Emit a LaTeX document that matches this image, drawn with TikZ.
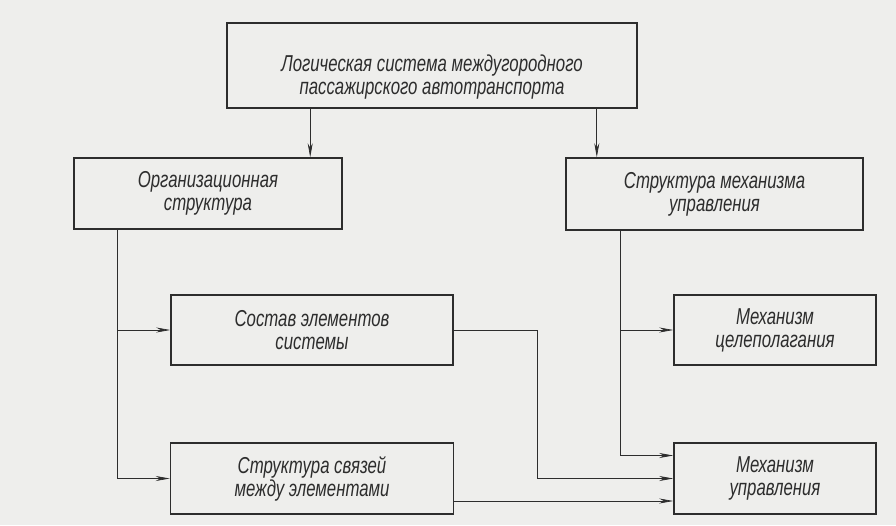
\documentclass[tikz,border=0pt]{standalone}
\usepackage{fontspec}
\setmainfont{Liberation Sans}[FakeStretch=0.73]
\usetikzlibrary{arrows.meta}
\definecolor{paper}{RGB}{238,238,236}
\definecolor{ink}{RGB}{45,45,45}

\tikzset{
  box/.style={draw=ink, line width=1.6pt, align=center, inner sep=2pt,
    font=\fontsize{23}{23}\selectfont\itshape, text=ink},
  txt/.style={align=center, font=\fontsize{23}{23}\selectfont\itshape, text=ink},
  arr/.style={draw=ink, line width=0.7pt, -{Stealth[length=14pt,width=5pt]}}
}

\begin{document}
\begin{tikzpicture}[x=1pt, y=1pt, node distance={148.5pt}]
\fill[paper] (0,0) rectangle (896,-525);
\useasboundingbox (0,0) rectangle (896,-525);

\node[box, minimum width=410pt, minimum height=85pt,
  label={[txt, yshift=-12pt]center:Логическая система междугородного\\пассажирского автотранспорта}]
  (top) at (432,-65.5) {};
\node[box, minimum width=268pt, minimum height=71pt] (org) at (208,-193.5)
  {Организационная\\структура};
\node[box, minimum width=297pt, minimum height=72pt] (mech) at (714.5,-194)
  {Структура механизма\\управления};
\node[box, minimum width=282pt, minimum height=70pt] (sost) at (312,-330)
  {Состав элементов\\системы};
\node[box, minimum width=202pt, minimum height=70pt] (tsel) at (775,-330)
  {Механизм\\целеполагания};
\node[box, minimum width=283pt, minimum height=71pt] (svyaz) [below of=sost]
  {Структура связей\\между элементами};
\node[box, minimum width=202pt, minimum height=71pt] (upr) [below of=tsel]
  {Механизм\\управления};

\draw[arr] ([xshift=84pt]top.south west) coordinate (a) -- (a |- org.north);
\draw[arr] ([xshift=-41pt]top.south east) coordinate (b) -- (b |- mech.north);
\draw[arr] ([xshift=44pt]org.south west) |- (sost.west);
\draw[arr] ([xshift=44pt]org.south west) |- (svyaz.west);
\draw[arr] ([xshift=55pt]mech.south west) |- (tsel.west);
\draw[arr] ([xshift=55pt]mech.south west) |- ([yshift=23pt]upr.west);
\draw[arr] (sost.east) -- ++(84pt,0) |- (upr.west);
\draw[arr] ([yshift=-22.5pt]svyaz.east) -- ([yshift=-22.5pt]upr.west);

\end{tikzpicture}
\end{document}
